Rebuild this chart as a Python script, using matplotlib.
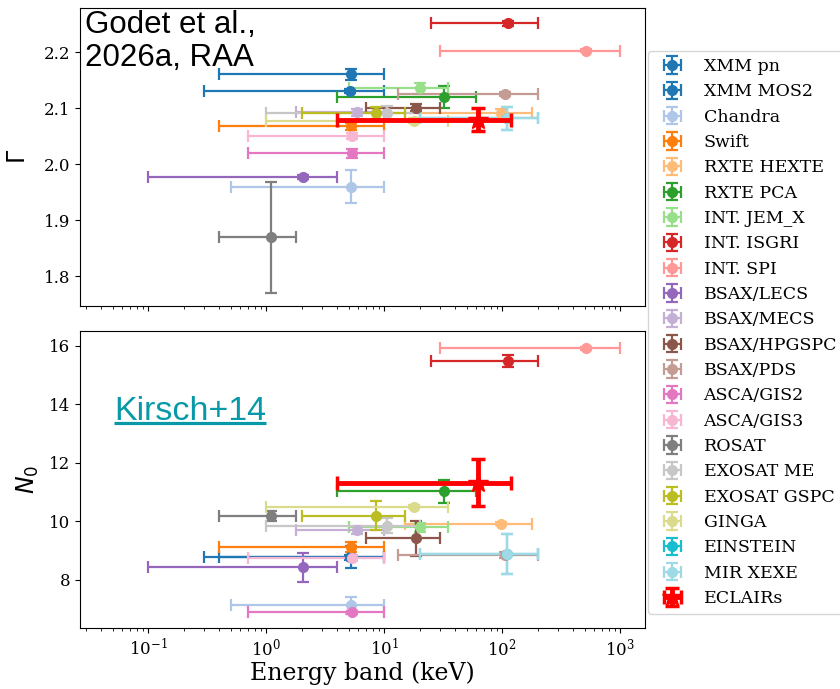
import numpy as np
import matplotlib
matplotlib.use('Agg')
import matplotlib.pyplot as plt

plt.rcParams['font.family'] = 'DejaVu Serif'
plt.rcParams['mathtext.fontset'] = 'dejavusans'

# instruments, energy bands (keV) and fitted values
instruments = ['XMM pn', 'XMM MOS2', 'Chandra', 'Swift', 'RXTE HEXTE', 'RXTE PCA',
               'INT. JEM_X', 'INT. ISGRI', 'INT. SPI', 'BSAX/LECS', 'BSAX/MECS',
               'BSAX/HPGSPC', 'BSAX/PDS', 'ASCA/GIS2', 'ASCA/GIS3', 'ROSAT',
               'EXOSAT ME', 'EXOSAT GSPC', 'GINGA', 'EINSTEIN', 'MIR XEXE']
colors = ['#1f77b4', '#1f77b4', '#aec7e8', '#ff7f0e', '#ffbb78', '#2ca02c',
          '#98df8a', '#d62728', '#ff9896', '#9467bd', '#c5b0d5',
          '#8c564b', '#c49c94', '#e377c2', '#f7b6d2', '#7f7f7f',
          '#c7c7c7', '#bcbd22', '#dbdb8d', '#17becf', '#9edae5']
e_lo = [0.4, 0.3, 0.5, 0.4, 15, 4, 5, 25, 30, 0.1, 1.8, 7, 13, 0.7, 0.7, 0.4, 1, 2, 1, 20, 20]
e_hi = [10, 10, 10, 10, 180, 60, 35, 200, 1000, 4, 10, 30, 200, 10, 10, 1.8, 20, 15, 35, 200, 200]

gamma = [2.161, 2.131, 1.960, 2.068, 2.091, 2.120, 2.136, 2.252, 2.203, 1.977, 2.093,
         2.101, 2.126, 2.020, 2.050, 1.869, 2.092, 2.092, 2.078, 2.082, 2.082]
gamma_err = [0.010, 0.004, 0.030, 0.006, 0.008, 0.020, 0.010, 0.004, 0.003, 0.004, 0.006,
             0.006, 0.004, 0.008, 0.005, 0.100, 0.012, 0.011, 0.005, 0.020, 0.020]

norm = [8.78, 8.76, 7.12, 9.13, 9.91, 11.02, 9.79, 15.47, 15.91, 8.43, 9.70,
        9.41, 8.85, 6.89, 8.75, 10.18, 9.85, 10.19, 10.49, 8.87, 8.87]
norm_err = [0.38, 0.10, 0.28, 0.17, 0.05, 0.40, 0.15, 0.20, 0.05, 0.50, 0.15,
            0.60, 0.10, 0.05, 0.10, 0.17, 0.25, 0.50, 0.05, 0.68, 0.68]

ecl_lo, ecl_hi = 4, 120
ecl_gamma, ecl_gamma_err = 2.080, 0.020
ecl_norm, ecl_norm_err = 11.31, 0.80

fig, (ax1, ax2) = plt.subplots(2, 1, sharex=True, figsize=(8.4, 6.89), dpi=100)
fig.subplots_adjust(left=0.0952, right=0.768, top=0.988, bottom=0.0885, hspace=0.084)

for i, name in enumerate(instruments):
    e = (e_lo[i] + e_hi[i]) / 2
    xerr = [[e - e_lo[i]], [e_hi[i] - e]]
    for ax, y, yerr in ((ax1, gamma, gamma_err), (ax2, norm, norm_err)):
        ax.errorbar([e], [y[i]], xerr=xerr, yerr=[yerr[i]], fmt='o', color=colors[i],
                    ms=7, capsize=4, elinewidth=1.6, capthick=1.6, label=name)

e = (ecl_lo + ecl_hi) / 2
for ax, y, yerr in ((ax1, ecl_gamma, ecl_gamma_err), (ax2, ecl_norm, ecl_norm_err)):
    ax.errorbar([e], [y], xerr=[[e - ecl_lo], [ecl_hi - e]], yerr=[yerr], fmt='*',
                color='red', ms=15, capsize=5, elinewidth=3.5, capthick=2.5,
                label='ECLAIRs', zorder=5)

ax1.set_xscale('log')
ax1.set_xlim(0.0265, 1630)
ax1.set_ylim(1.747, 2.279)
ax2.set_ylim(6.35, 16.51)
ax1.set_yticks([1.8, 1.9, 2.0, 2.1, 2.2])
ax2.set_yticks([8, 10, 12, 14, 16])
for ax in (ax1, ax2):
    ax.tick_params(labelsize=12)
ax1.set_ylabel(r'$\Gamma$', fontsize=17, labelpad=10)
ax2.set_ylabel(r'$N_0$', fontsize=17, labelpad=6)
ax2.set_xlabel('Energy band (keV)', fontsize=17, labelpad=1)

ax1.text(0.009, 0.995, 'Godet et al.,\n2026a, RAA', transform=ax1.transAxes,
         fontsize=22.5, family='Liberation Sans', va='top', ha='left',
         linespacing=1.15, zorder=10)
kt = ax2.text(0.060, 0.701, 'Kirsch+14', transform=ax2.transAxes, color='#0899a8',
              fontsize=24.5, family='Liberation Sans', va='baseline', ha='left')

handles, labels = ax2.get_legend_handles_labels()
fig.legend(handles, labels, loc='upper left', bbox_to_anchor=(648 / 840, 1 - 51 / 689),
           borderaxespad=0, fontsize=12.5, labelspacing=0.48, handletextpad=0.8)

# underline the Kirsch+14 label
fig.canvas.draw()
bb = kt.get_window_extent().transformed(ax2.transAxes.inverted())
ax2.plot([bb.x0, bb.x1], [0.689, 0.689], transform=ax2.transAxes, color='#0899a8',
         lw=2.3, solid_capstyle='butt')

fig.savefig('out.png', dpi=100)
